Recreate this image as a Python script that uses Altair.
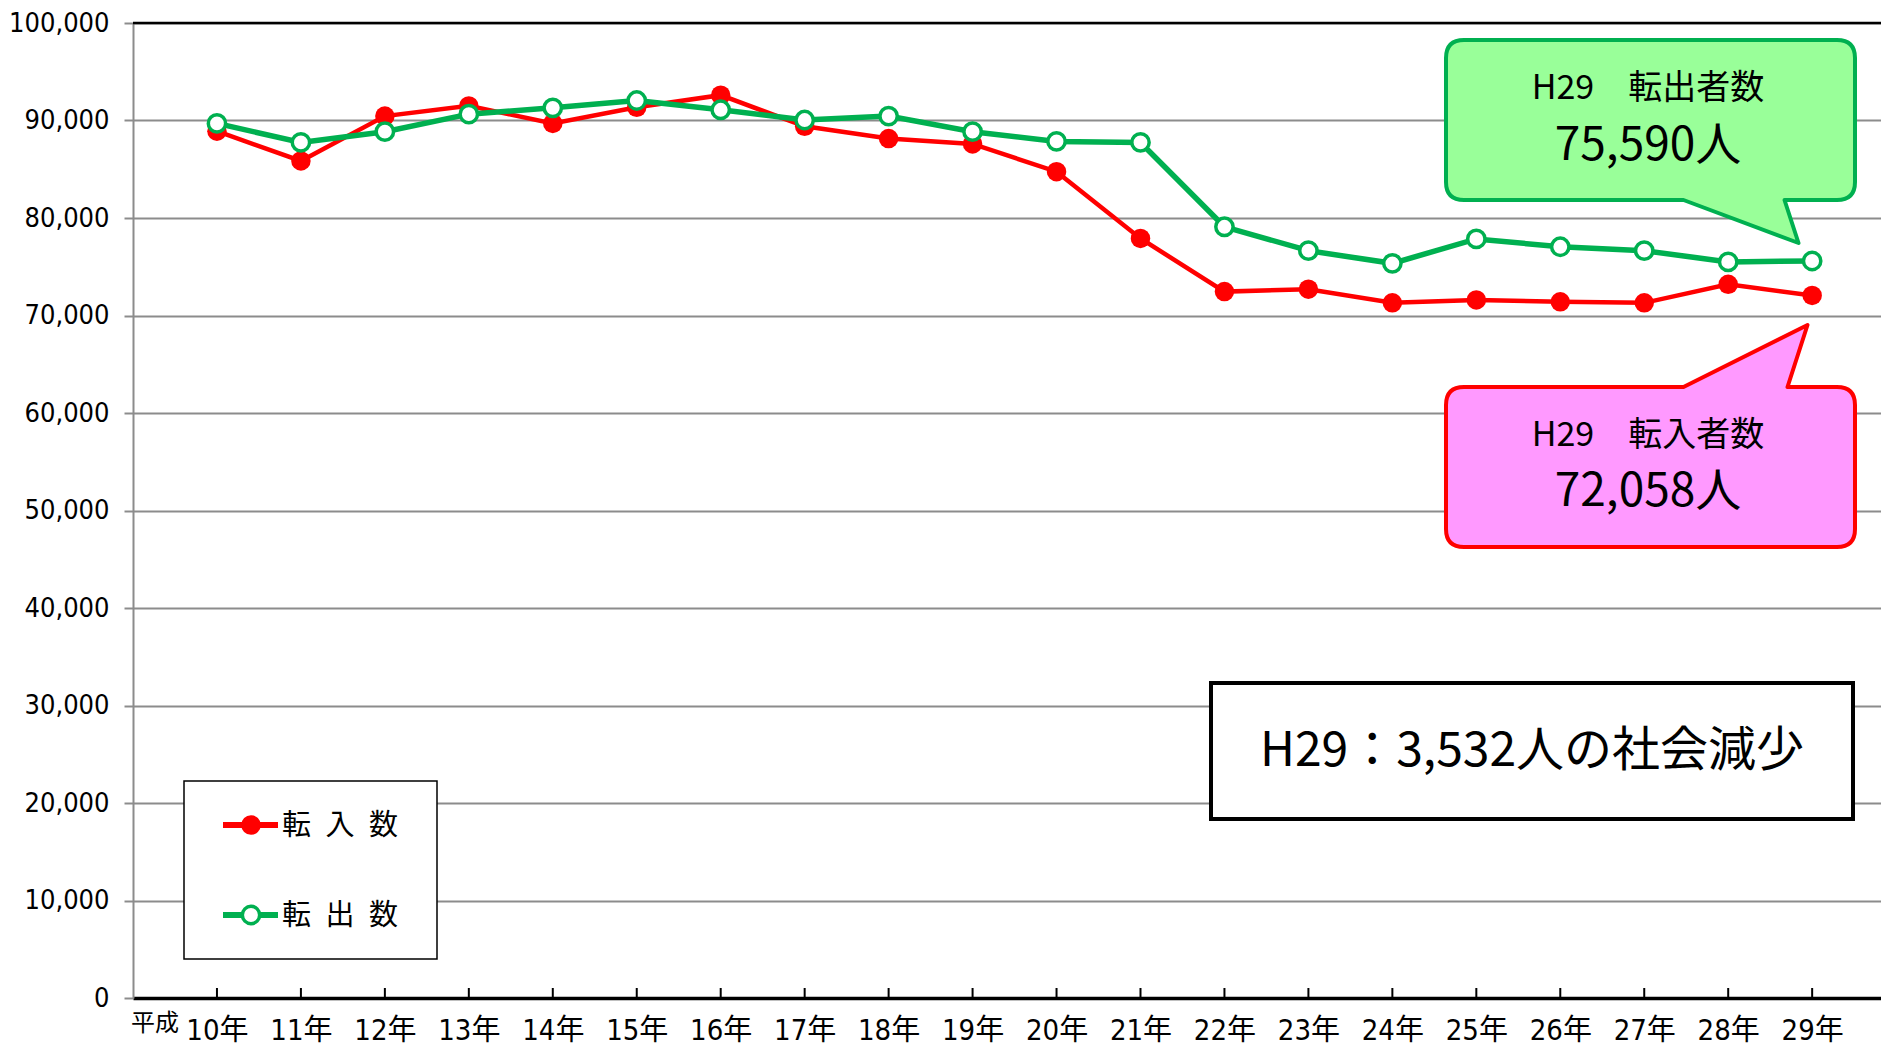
import altair as alt
import pandas as pd

# ---------------- data ----------------
years = list(range(10, 30))
tennyu = [88900, 85850, 90450, 91500, 89700, 91350, 92600, 89400, 88150, 87600,
          84750, 77900, 72450, 72700, 71300, 71600, 71400, 71300, 73200, 72058]
tenshutsu = [89700, 87750, 88850, 90650, 91300, 92050, 91100, 90050, 90450, 88850,
             87850, 87750, 79100, 76650, 75350, 77850, 77050, 76650, 75500, 75590]
series_names = ["転\u2002入\u2002数", "転\u2002出\u2002数"]
callout_out = ["H29\u3000転出者数", "75,590人"]
callout_in = ["H29\u3000転入者数", "72,058人"]
summary_text = "H29：3,532人の社会減少"
era_label = "平成"
y_ticks = list(range(0, 100001, 10000))

df = pd.DataFrame({"year": years, "in": tennyu, "out": tenshutsu})

# ---------------- layout ----------------
W, H = 1748, 975
X_DOMAIN = [9, 29.82]
PX = W / (X_DOMAIN[1] - X_DOMAIN[0])        # pixels per year
XS = alt.Scale(domain=X_DOMAIN, nice=False, zero=False)
YS = alt.Scale(domain=[0, 100000], nice=False, zero=True)

AX_FONT = "DejaVu Sans Condensed, DejaVu Sans, Noto Sans CJK JP"
JP = "Noto Sans CJK JP"
RED = "#FF0000"
GREEN = "#00B050"

X_AXIS = alt.Axis(values=years, labelExpr="datum.value + '年'", title=None, grid=False,
                  ticks=False, domainColor="black", domainWidth=3.5, labelFontSize=29,
                  labelFont=AX_FONT, labelColor="black", labelPadding=18,
                  labelFlush=False, labelOverlap=False)
Y_AXIS = alt.Axis(values=y_ticks, format=",.0f", title=None, grid=True, gridColor="#8c8c8c",
                  gridWidth=2, tickColor="#8c8c8c", tickSize=9, tickWidth=2,
                  domainColor="#8c8c8c", domainWidth=2, labelFontSize=27,
                  labelFont=AX_FONT, labelColor="black", labelPadding=15)


def px2x(px):
    return X_DOMAIN[0] + (px - 133) / PX


def py2y(py):
    return (998 - py) / H * 100000


def xq(field):
    return alt.X(field, type="quantitative", scale=XS, axis=X_AXIS)


def yq(field):
    return alt.Y(field, type="quantitative", scale=YS, axis=Y_AXIS)


base = alt.Chart(df)

red_line = base.mark_line(color=RED, strokeWidth=4.5).encode(x=xq("year"), y=yq("in"))
red_pts = base.mark_circle(color=RED, size=380, opacity=1).encode(x=xq("year"), y=yq("in"))
green_line = base.mark_line(color=GREEN, strokeWidth=5.5).encode(x=xq("year"), y=yq("out"))
green_pts = base.mark_point(shape="circle", filled=True, fill="white", stroke=GREEN,
                            strokeWidth=3.5, size=300, opacity=1).encode(
    x=xq("year"), y=yq("out"))

top_rule = alt.Chart(pd.DataFrame({"v": [100000]})).mark_rule(
    color="black", strokeWidth=2.5).encode(y=yq("v"))
x_ticks = base.mark_rule(color="black", strokeWidth=2).encode(
    x=xq("year"), y=alt.value(H - 10), y2=alt.value(H))

# ---------------- callouts ----------------
green_path = ("M -186.5,-80 L 186.5,-80 Q 204.5,-80 204.5,-62 L 204.5,62 "
              "Q 204.5,80 186.5,80 L 134,80 L 148,123 L 33,80 L -186.5,80 "
              "Q -204.5,80 -204.5,62 L -204.5,-62 Q -204.5,-80 -186.5,-80 Z")
red_path = ("M -186.5,-80 L 33,-80 L 157,-142 L 137,-80 L 186.5,-80 "
            "Q 204.5,-80 204.5,-62 L 204.5,62 Q 204.5,80 186.5,80 L -186.5,80 "
            "Q -204.5,80 -204.5,62 L -204.5,-62 Q -204.5,-80 -186.5,-80 Z")


def shape_layer(cx, cy, path, fill, stroke):
    d = pd.DataFrame({"x": [px2x(cx)], "y": [py2y(cy)]})
    return alt.Chart(d).mark_point(shape=path, size=4, filled=True, fill=fill,
                                   stroke=stroke, strokeWidth=4, opacity=1,
                                   strokeJoin="round").encode(x=xq("x"), y=yq("y"))


def text_layer(text, cx, cy, fs, align="center", font=JP):
    d = pd.DataFrame({"x": [px2x(cx)], "y": [py2y(cy)], "t": [text]})
    return alt.Chart(d).mark_text(fontSize=fs, font=font, color="black", align=align,
                                  baseline="middle").encode(
        x=xq("x"), y=yq("y"), text="t:N")


green_callout = shape_layer(1650.5, 120, green_path, "#99FF99", GREEN)
red_callout = shape_layer(1650.5, 467, red_path, "#FF99FF", RED)
g_t1 = text_layer(callout_out[0], 1648, 89, 34)
g_t2 = text_layer(callout_out[1], 1648, 146, 46)
r_t1 = text_layer(callout_in[0], 1648, 436, 34)
r_t2 = text_layer(callout_in[1], 1648, 492, 46)

# summary box
sum_df = pd.DataFrame({"x": [px2x(1211)], "x2": [px2x(1853)],
                       "y": [py2y(683)], "y2": [py2y(819)]})
sum_box = alt.Chart(sum_df).mark_rect(fill="white", stroke="black", strokeWidth=4).encode(
    x=xq("x"), x2="x2", y=yq("y"), y2="y2")
sum_txt = text_layer(summary_text, 1532, 752, 48)

# ---------------- legend ----------------
leg_df = pd.DataFrame({"x": [px2x(184)], "x2": [px2x(437)],
                       "y": [py2y(781)], "y2": [py2y(959)]})
leg_box = alt.Chart(leg_df).mark_rect(fill="white", stroke="black", strokeWidth=1.5).encode(
    x=xq("x"), x2="x2", y=yq("y"), y2="y2")


def leg_entry(cy, color, filled_dot):
    d = pd.DataFrame({"x": [px2x(223)], "x2": [px2x(278)], "xm": [px2x(251)],
                      "y": [py2y(cy)]})
    c = alt.Chart(d)
    line = c.mark_rule(color=color, strokeWidth=6).encode(x=xq("x"), x2="x2", y=yq("y"))
    if filled_dot:
        dot = c.mark_circle(color=color, size=380, opacity=1).encode(x=xq("xm"), y=yq("y"))
    else:
        dot = c.mark_point(shape="circle", filled=True, fill="white", stroke=color,
                           strokeWidth=3.5, size=300, opacity=1).encode(x=xq("xm"), y=yq("y"))
    return [line, dot]


leg_layers = leg_entry(825, RED, True) + leg_entry(915, GREEN, False)
leg_t1 = text_layer(series_names[0], 282, 826, 29, align="left")
leg_t2 = text_layer(series_names[1], 282, 916, 29, align="left")

era = alt.Chart(pd.DataFrame({"t": [era_label]})).mark_text(
    fontSize=24, font=JP, color="black", align="center", baseline="middle").encode(
    text="t:N", x=alt.value(22), y=alt.value(1001))

chart = alt.layer(
    red_line, top_rule, x_ticks, red_pts, green_line, green_pts,
    green_callout, red_callout, g_t1, g_t2, r_t1, r_t2,
    sum_box, sum_txt, leg_box, *leg_layers, leg_t1, leg_t2, era,
).properties(
    width=W, height=H,
    autosize=alt.AutoSizeParams(type="none"),
    padding={"left": 125, "top": 15, "right": 0, "bottom": 47},
    background="white",
).configure_view(stroke=None)

chart.save("out.html", embed_options={"renderer": "svg", "actions": False})
